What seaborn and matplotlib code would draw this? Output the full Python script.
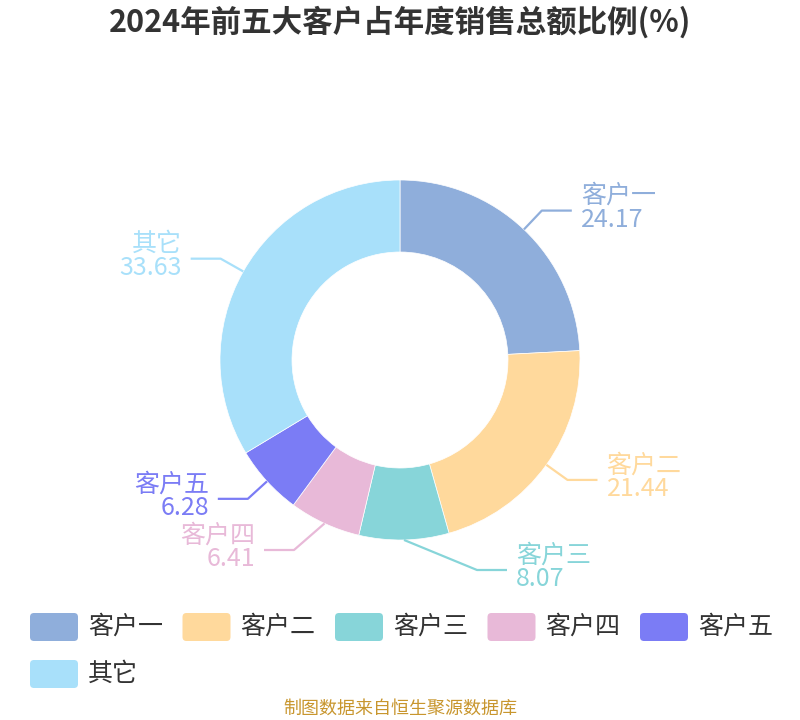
import numpy as np
import pandas as pd
import matplotlib
matplotlib.use("Agg")
import matplotlib.pyplot as plt
import seaborn as sns
from matplotlib.patches import FancyBboxPatch

# ---- data ----
categories = ["客户一", "客户二", "客户三", "客户四", "客户五", "其它"]
values = [24.17, 21.44, 8.07, 6.41, 6.28, 33.63]
value_labels = ["24.17", "21.44", "8.07", "6.41", "6.28", "33.63"]
title = "2024年前五大客户占年度销售总额比例(%)"
source = "制图数据来自恒生聚源数据库"

colors = ["#8FAEDB", "#FFD99C", "#87D5D9", "#E8B9D8", "#7B7CF5", "#A8E0FA"]

sns.set_theme(style="white")
sns.set_palette(colors)
plt.rcParams['font.family'] = ['Noto Sans CJK SC', 'DejaVu Sans']

df = pd.DataFrame({"cat": categories, "val": values, "lab": value_labels})

W, H = 800, 720
fig = plt.figure(figsize=(W / 100, H / 100), dpi=100)
ax = fig.add_axes([0, 0, 1, 1])

cx, cy, R = 400, 360, 180
wedges, _ = ax.pie(df["val"], colors=sns.color_palette(n_colors=len(df)),
                   startangle=270, counterclock=True, center=(cx, cy), radius=R,
                   wedgeprops=dict(width=R * 0.4, linewidth=0.5, edgecolor="white"))
ax.set_xlim(0, W)
ax.set_ylim(H, 0)
ax.set_aspect('equal')
ax.axis('off')

# ---- labels with leader lines ----
total = df["val"].sum()
cum = 0.0
len1, len2 = 26, 30
elbow_override = {"客户三": (477, 570), "客户四": (294, 550)}
for i, row in df.iterrows():
    mid = cum + row["val"] / 2
    cum += row["val"]
    th = np.deg2rad(270 + 360 * mid / total)
    ex, ey = cx + R * np.cos(th), cy + R * np.sin(th)
    if row["cat"] in elbow_override:
        bx, by = elbow_override[row["cat"]]
    else:
        bx, by = cx + (R + len1) * np.cos(th), cy + (R + len1) * np.sin(th)
    side = 1 if np.cos(th) >= 0 else -1
    if row["cat"] == "客户三":
        side = 1
    fx = bx + side * len2
    col = colors[i]
    ax.plot([ex, bx, fx], [ey, by, by], color=col, lw=1.6, solid_capstyle='butt')
    tx = fx + side * 9
    ha = 'left' if side > 0 else 'right'
    ax.text(tx, by - 2.5, f"{row['cat']}\n{row['lab']}", color=col, fontsize=18,
            ha=ha, va='center', multialignment=ha, linespacing=0.9)

# ---- title and source ----
ax.text(W / 2, 22, title, fontsize=22, fontweight='bold', color="#333333",
        ha='center', va='center')
ax.text(W / 2, 709, source, fontsize=13, color="#C8962E", ha='center', va='center')

# ---- legend ----
bw, bh = 48, 28
for i, cat in enumerate(categories):
    r_, c_ = divmod(i, 5)
    x0 = 30 + c_ * 152.5
    y0 = 613 + r_ * 47
    patch = FancyBboxPatch((x0 + 4, y0 + 4), bw - 8, bh - 8,
                           boxstyle="round,pad=4", fc=colors[i], ec="none")
    ax.add_patch(patch)
    ax.text(x0 + bw + 10, y0 + bh / 2, cat, fontsize=18, color="#333333",
            ha='left', va='center')

fig.savefig("out.png", dpi=100)
